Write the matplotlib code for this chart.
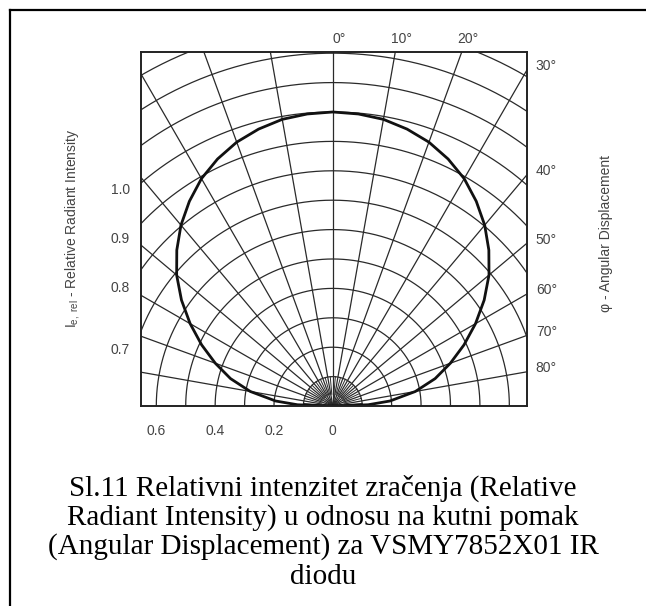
import numpy as np
import matplotlib
matplotlib.use('Agg')
import matplotlib.pyplot as plt
from matplotlib.lines import Line2D

# radiation pattern (one side, it is symmetric)
angles = [0, 5, 10, 15, 20, 25, 30, 35, 40, 45, 50, 55, 60, 65, 70, 75, 80, 85, 88, 90]
intensity = [1.000, 0.997, 0.990, 0.975, 0.955, 0.927, 0.893, 0.850, 0.803, 0.750,
             0.693, 0.628, 0.560, 0.492, 0.425, 0.360, 0.285, 0.195, 0.120, 0.000]

arc_radii = [0.1, 0.2, 0.3, 0.4, 0.5, 0.6, 0.7, 0.8, 0.9, 1.0, 1.1, 1.2, 1.3]
ray_angles = [-80, -70, -60, -50, -40, -30, -20, -10, 0, 10, 20, 30, 40, 50, 60, 70, 80]
x_ticks = [-0.6, -0.4, -0.2, 0]
x_tick_labels = ['0.6', '0.4', '0.2', '0']
left_labels = ['1.0', '0.9', '0.8', '0.7']
top_angles = [0, 10, 20]
right_angles = [30, 40, 50, 60, 70, 80]
caption = ['Sl.11 Relativni intenzitet zračenja (Relative',
           'Radiant Intensity) u odnosu na kutni pomak',
           '(Angular Displacement) za VSMY7852X01 IR',
           'diodu']

plt.rcParams['font.family'] = ['Liberation Sans', 'DejaVu Sans']
plt.rcParams['mathtext.fontset'] = 'custom'
plt.rcParams['mathtext.rm'] = 'Liberation Sans'
plt.rcParams['mathtext.it'] = 'Liberation Sans'

W, H = 646, 606
fig = plt.figure(figsize=(W / 100, H / 100), dpi=100)
ax = fig.add_axes([141 / W, 200 / H, 386 / W, 354 / H])
x0, x1, ytop = -0.652, 0.66, 1.204
ax.set_xlim(x0, x1)
ax.set_ylim(0, ytop)

grid_c = '#2a2a2a'
t = np.radians(np.linspace(-90, 90, 361))
for r in arc_radii:
    ax.plot(r * np.sin(t), r * np.cos(t), color=grid_c, lw=0.9)
for a in ray_angles:
    ar = np.radians(a)
    ax.plot([0, 2 * np.sin(ar)], [0, 2 * np.cos(ar)], color=grid_c, lw=0.9)
# short in-between rays near the origin
for a in range(-85, 90, 10):
    ar = np.radians(a)
    ax.plot([0.04 * np.sin(ar), 0.1 * np.sin(ar)], [0.04 * np.cos(ar), 0.1 * np.cos(ar)],
            color=grid_c, lw=0.7)

# the curve, both sides
ph = np.radians(np.array([-a for a in angles[::-1]] + angles[1:]))
ii = np.array(intensity[::-1] + intensity[1:])
ax.plot(ii * np.sin(ph), ii * np.cos(ph), color='#111111', lw=2.0, solid_capstyle='round')

for s in ax.spines.values():
    s.set_linewidth(1.4)
    s.set_color('#222222')
ax.set_xticks(x_ticks)
ax.set_xticklabels(x_tick_labels)
ax.set_yticks([])
ax.tick_params(axis='x', length=0, pad=13, labelsize=10, labelcolor='#444444')

lab_c = '#444444'
# left intensity labels
for lab, yp in zip(left_labels, [190, 239, 288, 350]):
    ax.text(130, H - yp, lab, transform=None, ha='right', va='center',
            fontsize=10, color=lab_c)
# top angle labels, where the rays meet the top edge
for a in top_angles:
    xp = ytop * np.tan(np.radians(a))
    ax.text(xp + 0.02, ytop + 0.045, '%d°' % a, ha='center', va='center',
            fontsize=10, color=lab_c)
# right angle labels, where the rays meet the right edge
for a in right_angles:
    yp = x1 / np.tan(np.radians(a))
    ax.text(x1 + 0.03, yp + 0.012, '%d°' % a, ha='left', va='center',
            fontsize=10, color=lab_c)

fig.text(72 / W, 1 - 228 / H, r'I$_{\mathrm{e,\ rel}}$ - Relative Radiant Intensity',
         rotation=90, ha='center', va='center', fontsize=10, color=lab_c)
fig.text(606 / W, 1 - 233 / H, 'φ - Angular Displacement',
         rotation=90, ha='center', va='center', fontsize=10, color=lab_c)

for i, line in enumerate(caption):
    fig.text(323 / W, 1 - (488 + 29.5 * i) / H, line, ha='center', va='center',
             fontsize=21, family='Liberation Serif', color='black')

# page frame (left and top only)
fig.add_artist(Line2D([10 / W, 10 / W], [0, 1 - 10 / H], transform=fig.transFigure,
                      color='black', lw=1.6))
fig.add_artist(Line2D([10 / W, 1], [1 - 10 / H, 1 - 10 / H], transform=fig.transFigure,
                      color='black', lw=1.6))

plt.savefig('out.png', dpi=100)
